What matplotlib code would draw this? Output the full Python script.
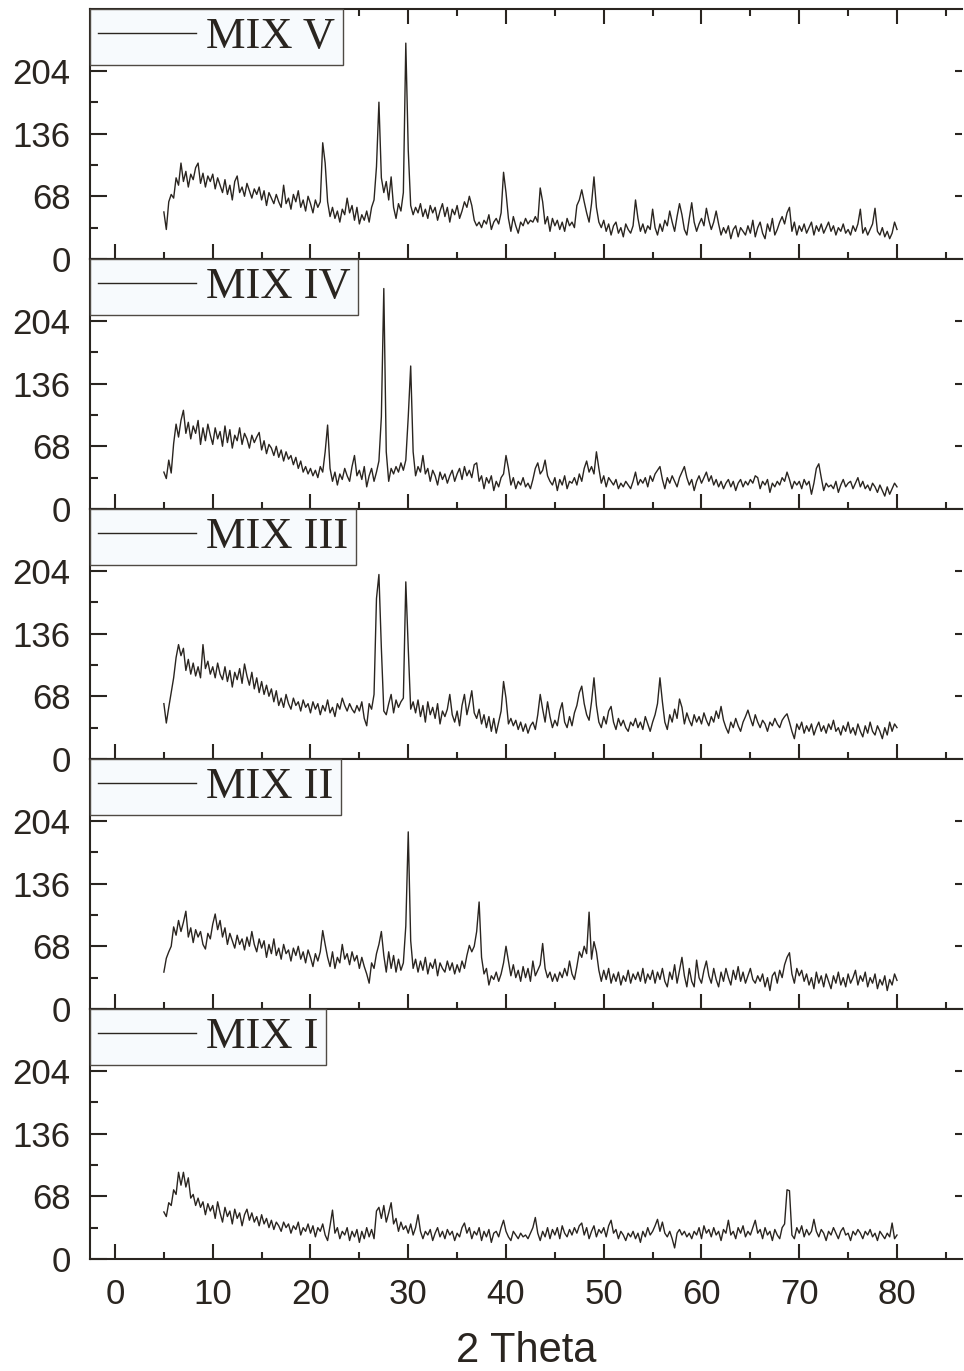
import numpy as np
import matplotlib
matplotlib.use('Agg')
import matplotlib.pyplot as plt
from matplotlib.ticker import FixedLocator, MultipleLocator

# 2 theta grid, 0.25 deg steps from 5 to 80
two_theta = np.linspace(5, 80, 301)

mix_v = [
    51, 32, 62, 70, 66, 88, 80, 104, 84, 95, 78, 92, 86, 99, 104, 82, 93, 78, 90, 84,
    92, 76, 88, 80, 72, 86, 70, 80, 64, 84, 90, 72, 78, 68, 82, 74, 66, 76, 70, 78,
    64, 74, 58, 72, 66, 60, 70, 62, 56, 80, 60, 66, 54, 70, 62, 74, 56, 64, 52, 68,
    60, 50, 64, 56, 62, 126, 104, 62, 46, 56, 44, 52, 40, 54, 48, 66, 50, 58, 42, 56,
    38, 48, 42, 52, 40, 56, 64, 100, 170, 88, 72, 84, 64, 89, 56, 44, 60, 52, 72, 234,
    118, 58, 48, 56, 50, 60, 46, 54, 44, 58, 50, 56, 42, 52, 60, 46, 56, 40, 54, 48,
    58, 44, 52, 62, 56, 68, 58, 42, 36, 40, 34, 42, 38, 48, 32, 40, 44, 38, 50, 94,
    72, 44, 30, 46, 36, 28, 40, 36, 44, 38, 42, 40, 46, 40, 77, 62, 38, 46, 30, 44,
    36, 42, 32, 40, 30, 44, 36, 40, 34, 58, 64, 75, 62, 50, 40, 60, 89, 56, 40, 34,
    42, 30, 38, 26, 36, 40, 28, 34, 24, 38, 32, 28, 36, 64, 44, 30, 38, 28, 36, 32,
    54, 34, 26, 38, 30, 42, 36, 52, 40, 30, 46, 60, 48, 32, 26, 44, 61, 40, 30, 38,
    44, 36, 55, 42, 32, 40, 52, 38, 26, 34, 28, 36, 22, 32, 36, 24, 34, 30, 26, 36,
    28, 42, 24, 34, 40, 28, 22, 38, 30, 44, 26, 32, 40, 46, 38, 50, 56, 30, 40, 26,
    36, 30, 38, 28, 34, 40, 26, 36, 30, 38, 28, 34, 40, 30, 36, 26, 34, 30, 38, 28,
    32, 26, 36, 30, 38, 54, 28, 34, 26, 32, 38, 55, 30, 26, 34, 24, 30, 22, 28, 40,
    32]

mix_iv = [
    40, 33, 53, 39, 71, 92, 78, 96, 107, 82, 94, 76, 90, 82, 96, 70, 88, 74, 92, 80,
    70, 88, 76, 84, 68, 90, 72, 86, 66, 80, 74, 88, 70, 82, 76, 66, 80, 72, 78, 83,
    64, 74, 60, 70, 66, 58, 68, 56, 64, 52, 62, 54, 58, 48, 56, 44, 52, 40, 46, 38,
    44, 36, 42, 34, 46, 40, 62, 91, 44, 30, 40, 26, 38, 32, 44, 36, 30, 46, 58, 36,
    42, 32, 46, 24, 36, 44, 30, 40, 52, 100, 239, 62, 30, 44, 38, 46, 40, 50, 42, 53,
    100, 155, 62, 36, 46, 40, 58, 38, 44, 30, 42, 36, 26, 40, 32, 38, 28, 36, 42, 30,
    38, 44, 32, 46, 36, 42, 34, 48, 50, 30, 36, 22, 34, 28, 36, 20, 30, 24, 34, 38,
    58, 44, 26, 34, 22, 30, 26, 34, 24, 28, 22, 32, 44, 50, 38, 42, 53, 36, 30, 26,
    34, 20, 32, 26, 36, 22, 30, 28, 34, 26, 38, 30, 44, 52, 40, 46, 38, 62, 44, 28,
    36, 24, 34, 30, 26, 32, 22, 28, 24, 30, 26, 22, 30, 40, 26, 32, 28, 34, 24, 36,
    30, 38, 42, 46, 32, 22, 34, 28, 36, 30, 24, 34, 40, 46, 34, 26, 32, 20, 30, 36,
    28, 34, 40, 30, 36, 26, 32, 24, 30, 22, 28, 32, 24, 30, 20, 28, 32, 24, 30, 26,
    32, 28, 36, 34, 22, 30, 26, 32, 18, 28, 24, 30, 26, 34, 30, 40, 32, 22, 30, 26,
    30, 22, 32, 26, 30, 16, 28, 44, 49, 34, 20, 28, 24, 26, 22, 30, 18, 26, 32, 24,
    28, 30, 22, 28, 34, 24, 30, 22, 26, 20, 28, 24, 18, 26, 20, 14, 24, 16, 22, 28,
    24]

mix_iii = [
    60, 39, 56, 72, 88, 110, 124, 112, 120, 96, 108, 92, 104, 90, 100, 88, 124, 98, 106, 92,
    100, 88, 104, 92, 86, 100, 84, 96, 78, 94, 86, 98, 82, 103, 90, 80, 94, 76, 88, 72,
    84, 70, 80, 68, 76, 62, 74, 58, 66, 56, 70, 60, 54, 66, 58, 62, 52, 64, 56, 60,
    50, 62, 54, 60, 48, 58, 52, 64, 50, 56, 46, 60, 54, 66, 58, 52, 60, 54, 50, 58,
    52, 62, 44, 36, 60, 54, 70, 174, 200, 120, 52, 48, 60, 70, 50, 64, 56, 62, 66, 192,
    120, 54, 62, 50, 64, 46, 58, 40, 62, 48, 56, 44, 60, 38, 52, 46, 54, 70, 48, 40,
    52, 36, 58, 70, 48, 60, 74, 50, 44, 54, 38, 48, 34, 46, 30, 44, 28, 40, 52, 84,
    66, 38, 44, 36, 42, 32, 40, 30, 38, 28, 36, 40, 32, 48, 70, 54, 40, 62, 46, 34,
    42, 36, 52, 61, 40, 34, 46, 36, 50, 58, 72, 79, 60, 48, 42, 62, 88, 58, 40, 34,
    46, 38, 52, 57, 40, 32, 44, 36, 42, 34, 30, 40, 36, 44, 34, 40, 32, 46, 38, 30,
    40, 48, 60, 88, 62, 40, 32, 48, 40, 54, 44, 65, 56, 38, 50, 42, 36, 48, 40, 46,
    38, 50, 42, 36, 46, 40, 52, 44, 57, 42, 34, 28, 40, 34, 44, 36, 30, 40, 46, 53,
    44, 36, 48, 40, 34, 42, 38, 30, 40, 36, 44, 38, 34, 42, 46, 49, 40, 30, 22, 38,
    32, 40, 28, 36, 30, 38, 26, 34, 40, 30, 36, 28, 38, 32, 42, 30, 34, 26, 36, 30,
    40, 28, 34, 26, 38, 30, 24, 36, 28, 40, 30, 26, 36, 30, 22, 34, 26, 40, 30, 38,
    34]

mix_ii = [
    40, 55, 62, 68, 89, 80, 96, 84, 94, 106, 78, 88, 72, 86, 78, 84, 70, 65, 82, 76,
    92, 103, 86, 96, 78, 88, 70, 82, 74, 66, 80, 70, 76, 64, 78, 68, 84, 70, 62, 76,
    66, 74, 56, 70, 60, 76, 58, 66, 54, 70, 60, 64, 52, 66, 58, 68, 54, 62, 50, 64,
    56, 46, 60, 52, 62, 85, 70, 56, 46, 62, 44, 56, 50, 70, 54, 60, 48, 62, 52, 58,
    44, 56, 46, 38, 28, 50, 44, 60, 70, 84, 58, 40, 62, 44, 58, 40, 54, 42, 50, 90,
    192, 74, 44, 54, 40, 52, 42, 56, 38, 50, 44, 54, 36, 50, 44, 40, 52, 42, 50, 38,
    48, 40, 52, 44, 58, 69, 62, 68, 84, 116, 56, 38, 44, 26, 36, 32, 40, 30, 38, 50,
    68, 52, 36, 48, 34, 42, 30, 46, 34, 44, 30, 52, 36, 42, 48, 71, 44, 34, 40, 30,
    38, 30, 40, 34, 44, 36, 52, 38, 32, 46, 62, 56, 68, 60, 105, 54, 73, 62, 42, 30,
    42, 32, 44, 28, 38, 30, 40, 26, 36, 30, 42, 28, 38, 32, 40, 30, 44, 28, 38, 32,
    42, 28, 40, 32, 44, 30, 24, 40, 32, 48, 28, 42, 56, 36, 24, 44, 30, 24, 53, 34,
    28, 42, 52, 36, 28, 44, 32, 24, 40, 30, 44, 34, 26, 42, 32, 46, 30, 40, 28, 36,
    44, 32, 28, 36, 30, 38, 24, 34, 20, 36, 40, 28, 42, 34, 48, 56, 61, 38, 28, 44,
    36, 42, 30, 38, 26, 34, 22, 40, 28, 36, 24, 38, 30, 22, 36, 28, 40, 26, 34, 24,
    38, 28, 34, 42, 26, 36, 30, 40, 24, 34, 28, 38, 22, 32, 26, 36, 20, 32, 26, 38,
    31]

mix_i = [
    51, 46, 61, 58, 75, 70, 94, 80, 94, 78, 88, 66, 70, 58, 66, 56, 62, 48, 60, 52,
    58, 44, 62, 50, 40, 56, 46, 52, 38, 54, 44, 50, 36, 48, 54, 42, 50, 40, 46, 36,
    48, 38, 44, 34, 42, 32, 40, 36, 30, 40, 34, 38, 28, 36, 32, 40, 26, 34, 30, 38,
    28, 36, 24, 34, 30, 38, 26, 20, 36, 53, 28, 34, 22, 30, 26, 34, 20, 30, 24, 32,
    18, 30, 22, 34, 24, 32, 22, 52, 56, 44, 58, 40, 50, 61, 38, 44, 30, 40, 32, 36,
    28, 38, 26, 34, 48, 30, 22, 30, 26, 32, 20, 28, 34, 24, 30, 22, 32, 26, 30, 20,
    28, 24, 34, 39, 28, 34, 22, 30, 26, 34, 20, 30, 24, 32, 18, 28, 30, 24, 34, 42,
    30, 24, 20, 30, 26, 22, 28, 24, 26, 22, 28, 34, 45, 28, 20, 30, 24, 34, 22, 32,
    26, 34, 22, 36, 28, 24, 32, 26, 34, 28, 36, 39, 26, 34, 22, 30, 36, 24, 32, 28,
    34, 24, 36, 42, 28, 32, 22, 30, 26, 20, 28, 24, 30, 22, 28, 18, 30, 24, 34, 26,
    30, 36, 43, 30, 40, 28, 24, 30, 22, 12, 28, 32, 26, 30, 24, 28, 22, 30, 26, 34,
    22, 36, 28, 32, 24, 34, 26, 30, 20, 32, 28, 42, 26, 30, 22, 34, 28, 36, 24, 30,
    26, 34, 42, 28, 32, 22, 34, 26, 30, 20, 32, 26, 22, 34, 38, 75, 74, 26, 22, 34,
    28, 36, 24, 32, 26, 30, 43, 30, 24, 32, 28, 20, 30, 26, 34, 28, 22, 30, 34, 26,
    28, 20, 30, 26, 32, 28, 22, 30, 26, 32, 24, 28, 20, 30, 26, 22, 28, 24, 39, 22,
    26]

labels = ['MIX V', 'MIX IV', 'MIX III', 'MIX II', 'MIX I']
series = [mix_v, mix_iv, mix_iii, mix_ii, mix_i]
y_ticks = [0, 68, 136, 204]
y_minor = [34, 102, 170, 238]
right_ticks = [68, 136, 204]
x_ticks = [0, 10, 20, 30, 40, 50, 60, 70, 80]

ink = '#2a2520'
W, H = 964.0, 1371.0

fig = plt.figure(figsize=(9.64, 13.71), dpi=100)

for i, (lab, ys) in enumerate(zip(labels, series)):
    bottom_px = 259 + 250 * i
    ax = fig.add_axes([90 / W, (H - bottom_px) / H, (962 - 90) / W, 250 / H])
    line, = ax.plot(two_theta, ys, color=ink, lw=1.0)
    ax.set_xlim(-2.557, (962 - 115) / 9.775)
    ax.set_ylim(0, 271)

    ax.xaxis.set_major_locator(FixedLocator(x_ticks))
    ax.xaxis.set_minor_locator(MultipleLocator(5))
    ax.yaxis.set_major_locator(FixedLocator(y_ticks))
    ax.yaxis.set_minor_locator(FixedLocator(y_minor))

    ax.tick_params(axis='x', which='major', direction='in', length=11, width=1.5,
                   top=(i == 0), bottom=True, labelbottom=(i == 4),
                   labelsize=25, pad=14, colors=ink)
    ax.tick_params(axis='x', which='minor', direction='in', length=5, width=1.5,
                   top=(i == 0), bottom=True, colors=ink)
    ax.tick_params(axis='y', which='major', direction='in', length=12, width=1.5,
                   right=False, labelsize=25, pad=14, colors=ink)
    ax.tick_params(axis='y', which='minor', direction='in', length=6, width=1.5,
                   right=False, colors=ink)
    for lbl in ax.get_xticklabels() + ax.get_yticklabels():
        lbl.set_family('Liberation Sans')

    for side in ['left', 'top', 'bottom']:
        ax.spines[side].set_linewidth(1.5)
        ax.spines[side].set_color(ink)
    ax.spines['right'].set_visible(False)

    # short ticks on the right edge
    rx = ax.twinx()
    rx.set_ylim(0, 271)
    rx.set_yticks(right_ticks)
    rx.tick_params(axis='y', direction='in', length=5, width=1.5,
                   labelright=False, colors=ink)
    for s in rx.spines.values():
        s.set_visible(False)

    leg = ax.legend([line], [lab], loc='upper left', bbox_to_anchor=(0, 1),
                    borderaxespad=0, borderpad=0.18, handlelength=2.2,
                    handletextpad=0.22, fancybox=False, framealpha=1,
                    facecolor='#f7fafd', edgecolor='#4f4a44',
                    prop={'family': 'Liberation Serif', 'size': 32})
    leg.get_frame().set_linewidth(1.0)
    for t in leg.get_texts():
        t.set_color(ink)
    leg.set_zorder(5)

    if i == 4:
        ax.set_xlabel('2 Theta', fontsize=30, family='Liberation Sans',
                      color=ink, labelpad=14)

fig.savefig('out.png', dpi=100)
